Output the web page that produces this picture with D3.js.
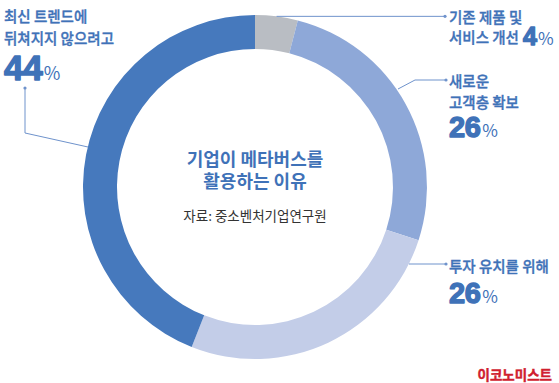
<!DOCTYPE html>
<html><head><meta charset="utf-8">
<script src="https://cdn.jsdelivr.net/npm/d3@7"></script>
<style>
html,body{margin:0;padding:0;background:#fff;}
svg{display:block;}
text{font-family:"Noto Sans CJK KR","Noto Sans",sans-serif;}
</style></head>
<body>
<script>
const categories = ["기존 제품 및 서비스 개선", "새로운 고객층 확보", "투자 유치를 위해", "최신 트렌드에 뒤쳐지지 않으려고"];
const values = [4, 26, 26, 44];
const colors = ["#b9bdc3", "#8ea8d8", "#c3cde8", "#4679bd"];
const labelLines = [["기존 제품 및", "서비스 개선"], ["새로운", "고객층 확보"], ["투자 유치를 위해"], ["최신 트렌드에", "뒤쳐지지 않으려고"]];
const titleLines = ["기업이 메타버스를", "활용하는 이유"];
const sourceText = "자료: 중소벤처기업연구원";
const brandText = "이코노미스트";

const W = 559, H = 383;
const cx = 255, cy = 187, R = 172, r = 138;
const blue = "#3f72b8";

const svg = d3.select("body").append("svg").attr("width", W).attr("height", H);
const g = svg.append("g").attr("transform", `translate(${cx},${cy})`);

const pie = d3.pie().sort(null).value(d => d)(values);
const arc = d3.arc().innerRadius(r).outerRadius(R);
g.selectAll("path.slice").data(pie).join("path")
  .attr("class", "slice").attr("d", arc).attr("fill", (d, i) => colors[i]);

// leader lines
const outerPt = (d) => { const a = (d.startAngle + d.endAngle) / 2; return [cx + R * Math.sin(a), cy - R * Math.cos(a)]; };
const lineColor = "#6f93cc";
const leaders = [
  (p) => [p, [445, p[1]]],
  (p) => [[398, 89], [415, 80], [446, 80]],
  (p) => [[409, 264], [446, 264]],
  (p) => [[88, 147], [25, 133], [25, 88]]
];
pie.forEach((d, i) => {
  const pts = leaders[i](outerPt(d));
  svg.append("path").attr("d", d3.line()(pts)).attr("fill", "none")
    .attr("stroke", lineColor).attr("stroke-width", 1);
  const e = pts[pts.length - 1];
  svg.append("circle").attr("cx", e[0]).attr("cy", e[1]).attr("r", 1.6).attr("fill", lineColor);
});

function pct(x, y, v, size, psize) {
  const t = svg.append("text").attr("x", x).attr("y", y).attr("fill", blue);
  t.append("tspan").attr("font-family", "'Liberation Sans',Arial,sans-serif").attr("font-weight", 900)
    .attr("font-size", size).attr("letter-spacing", -0.3)
    .attr("stroke", blue).attr("stroke-width", 1.4).attr("stroke-linejoin", "round").text(v);
  t.append("tspan").attr("font-size", psize).attr("font-weight", 400).attr("dx", 1.5).text("%");
  return t;
}
const lab = (x, y, s) => svg.append("text").attr("x", x).attr("y", y).attr("fill", blue)
  .attr("stroke", blue).attr("stroke-width", 0.35)
  .attr("font-size", 14.5).attr("font-weight", 500).text(s);

lab(449, 23, labelLines[0][0]);
lab(449, 43, labelLines[0][1]);
pct(523, 45, values[0], 25, 17);
lab(449, 87, labelLines[1][0]);
lab(449, 108, labelLines[1][1]);
pct(449, 137, values[1], 29, 17);
lab(449, 272, labelLines[2][0]);
pct(449, 303, values[2], 29, 17);
lab(4, 22, labelLines[3][0]);
lab(4, 44, labelLines[3][1]);
pct(4, 80, values[3], 35, 18);

// center title (one text, two lines)
const tt = svg.append("text").attr("text-anchor", "middle").attr("fill", blue)
  .attr("font-size", 18).attr("font-weight", 700);
titleLines.forEach((s, i) => tt.append("tspan").attr("x", cx).attr("y", 165.5 + i * 22).text(s));
svg.append("text").attr("x", cx).attr("y", 221).attr("text-anchor", "middle")
  .attr("fill", "#333").attr("font-size", 13.5).text(sourceText);

svg.append("text").attr("x", 552).attr("y", 380).attr("text-anchor", "end")
  .attr("fill", "#d0202e").attr("stroke", "#d0202e").attr("stroke-width", 0.4)
  .attr("font-size", 13.5).attr("font-weight", 700).text(brandText);
</script>
</body></html>
